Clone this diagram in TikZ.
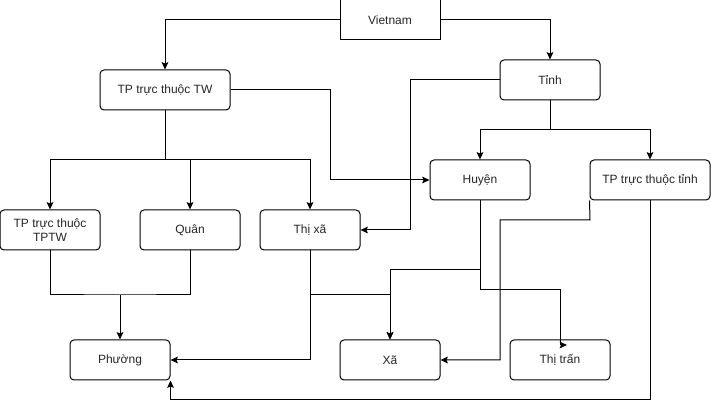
\documentclass[tikz,border=0pt]{standalone}
\usepackage{fontspec}
\setmainfont{Liberation Sans}
\usetikzlibrary{arrows.meta}
\begin{document}
\begin{tikzpicture}[x=0.75pt,y=-0.75pt,
  box/.style={draw, line width=0.75pt, rounded corners=3pt, minimum width=75pt, minimum height=30pt, inner sep=1pt, align=center, font=\fontsize{9pt}{10.5pt}\selectfont, text=black!85},
  sq/.style={box, rounded corners=0pt},
  ln/.style={line width=0.75pt},
  arr/.style={ln, -{Stealth[length=5.5pt,width=5pt,inset=1pt]}}]
\useasboundingbox (0,0) rectangle (711,409);
\node[sq] (vn) at (390,20) {Vietnam};
\node[box, minimum width=97.5pt] (tptw) at (165,90) {TP trực thuộc TW};
\node[box] (tinh) at (550,80) {Tỉnh};
\node[box] (huyen) at (480,180) {Huyện};
\node[box, minimum width=90pt] (tptinh) at (650,180) {TP trực thuộc tỉnh};
\node[box] (tptptw) at (50,230) {TP trực thuộc\\TPTW};
\node[box] (quan) at (190,230) {Quân};
\node[box] (thixa) at (310,230) {Thị xã};
\node[box] (phuong) at (120,360) {Phường};
\node[box] (xa) at (390,360) {Xã};
\node[box] (thitran) at (560,360) {Thị trấn};
\coordinate (j1) at (550,130);
\coordinate (j2) at (165,160);
\coordinate (j3) at (120,295);
\coordinate (tt) at (567,345);
% Vietnam
\draw[arr] (vn.west) -| (tptw.north);
\draw[arr] (vn.east) -| (tinh.north);
% Tinh
\draw[ln] (tinh.south) -- (j1);
\draw[arr] (j1) -| (huyen.north);
\draw[arr] (j1) -| (tptinh.north);
\draw[arr] (tinh.west) -- (410,80) |- (thixa.east);
% TP TW
\draw[arr] (tptw.east) -- (330,90) |- (huyen.west);
\draw[ln] (tptw.south) -- (j2);
\draw[arr] (j2) -| (tptptw.north);
\draw[arr] (j2) -| (quan.north);
\draw[arr] (j2) -| (thixa.north);
% to Phuong
\draw[ln] (tptptw.south) |- (j3) -| (quan.south);
\draw[arr] (j3) -- (phuong.north);
\draw[arr] (thixa.south) |- (phuong.east);
% to Xa
\draw[arr] (thixa.south) -- (310,295) -| (xa.north);
\draw[arr] (huyen.south) -- (480,270) -| (xa.north);
\draw[arr] (huyen.south) -- (480,290) -| (560,345) -- (tt);
\draw[arr] (tptinh.south west) -- (590,220) -- (500,220) |- (xa.east);
\draw[arr] (tptinh.south) -- (650,400) -| (phuong.south east);
\end{tikzpicture}
\end{document}
